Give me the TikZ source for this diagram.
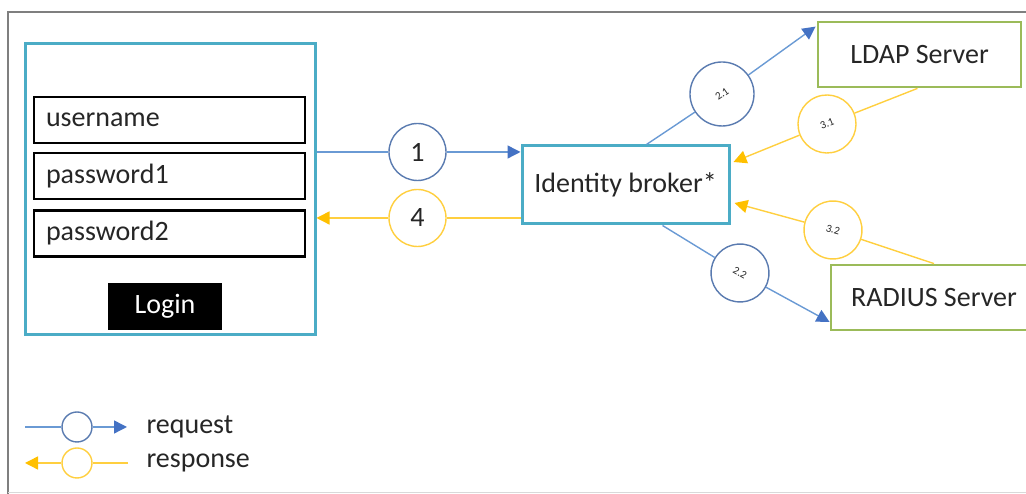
\documentclass[tikz,border=0pt]{standalone}
\usepackage{fontspec}
\setmainfont{Carlito}
\usetikzlibrary{arrows.meta,calc}
\definecolor{boxcyan}{HTML}{4BACC6}
\definecolor{srvgreen}{HTML}{9BBB59}
\definecolor{reqblue}{HTML}{6A9AD4}
\definecolor{ringblue}{HTML}{5A7BB0}
\definecolor{reqhead}{HTML}{4472C4}
\definecolor{respgold}{HTML}{FFC000}
\definecolor{respline}{HTML}{FFCF3F}
\definecolor{ink}{HTML}{262626}
\definecolor{framegray}{HTML}{7F7F7F}
\tikzset{
  Req/.tip={Triangle[length=13pt,width=13pt,color=reqhead]},
  Resp/.tip={Triangle[length=13pt,width=13pt,color=respgold]}
}
\begin{document}
\begin{tikzpicture}[x=1pt,y=1pt,font=\fontsize{28}{33}\selectfont,text=ink,
    panelbox/.style={draw=boxcyan,line width=3pt},
    field/.style={draw=black,line width=2.8pt,minimum width=271pt,minimum height=46pt,
      text width=247pt,inner xsep=12pt,align=left},
    server/.style={draw=srvgreen,line width=2.8pt,minimum height=65pt},
    req/.style={draw=reqblue,line width=1.4pt},
    resp/.style={draw=respline,line width=1.4pt},
    reqring/.style={circle,draw=ringblue,line width=1.4pt,fill=white,inner sep=0pt},
    respring/.style={circle,draw=respline,line width=1.4pt,fill=white,inner sep=0pt},
    tag/.style={font=\fontsize{11}{13}\selectfont}]
\useasboundingbox (0,0) rectangle (1026,494);
\draw[framegray,line width=2pt] (1032,482) -- (8,482) -- (8,-4);
\draw[gray!30,line width=1pt] (8,1) -- (1032,1);

\node (panel) [panelbox,minimum width=290pt,minimum height=291pt] at (170,304.5) {};
\node (user) [field] at (169.5,374) {username};
\node (pw1) [field] at (169.5,318) {password1};
\node (pw2) [field] at (169.5,260.5) {password2};
\node (login) [fill=black,text=white,minimum width=114pt,minimum height=47pt] at (165,187.5) {Login};

\node (broker) [panelbox,minimum width=207pt,minimum height=78pt] at (625.5,309) {Identity broker*};
\node (ldap) [server,minimum width=203pt] at (919.5,439.5) {LDAP Server};
\node (radius) [server,minimum width=206pt] at (934,196.5) {RADIUS Server};

\node (c1) [reqring,minimum size=57pt] at (417.5,342) {1};
\node (c4) [respring,minimum size=57pt] at (417.5,276) {4};
\node (c21) [reqring,tag,minimum size=64pt,rotate=35] at (722,400) {2.1};
\node (c31) [respring,tag,minimum size=58pt,rotate=22] at (827,370) {3.1};
\node (c32) [respring,tag,minimum size=58pt,rotate=-16] at (833,264) {3.2};
\node (c22) [reqring,tag,minimum size=58pt,rotate=-30] at (740,221) {2.2};

\coordinate (b21) at ($(broker.north)+(21,0)$);
\coordinate (l21) at ($(ldap.north west)+(-1,-6)$);
\coordinate (l31) at ($(ldap.south)+(-2,0)$);
\coordinate (b31) at ($(broker.east)+(3,23)$);
\coordinate (r32) at (radius.north);
\coordinate (b32) at ($(broker.east)+(4,-18)$);
\coordinate (b22) at ($(broker.south)+(37,0)$);
\coordinate (r22) at ($(radius.west)+(0,-24.5)$);

\draw[req] (panel.east |- c1) -- (c1);
\draw[req,-Req] (c1) -- (broker.west |- c1);
\draw[resp] (broker.west |- c4) -- (c4);
\draw[resp,-Resp] (c4) -- (panel.east |- c4);
\draw[req] (b21) -- (c21);
\draw[req,-Req] (c21) -- (l21);
\draw[resp] (l31) -- (c31);
\draw[resp,-Resp] (c31) -- (b31);
\draw[resp] (r32) -- (c32);
\draw[resp,-Resp] (c32) -- (b32);
\draw[req] (b22) -- (c22);
\draw[req,-Req] (c22) -- (r22);

\node (lreq) [reqring,minimum size=30pt] at (77,67) {};
\coordinate (lreqa) at (25,67);
\coordinate (lreqb) at (127,67);
\draw[req] (lreqa) -- (lreq);
\draw[req,-Req] (lreq) -- (lreqb);
\node (treq) [anchor=west] at (143,67) {request};

\node (lresp) [respring,minimum size=30pt] at (77,31) {};
\coordinate (lrespa) at (128,31);
\coordinate (lrespb) at (25,31);
\draw[resp] (lrespa) -- (lresp);
\draw[resp,-Resp] (lresp) -- (lrespb);
\node (tresp) [anchor=west] at (143,31) {response};
\end{tikzpicture}
\end{document}
